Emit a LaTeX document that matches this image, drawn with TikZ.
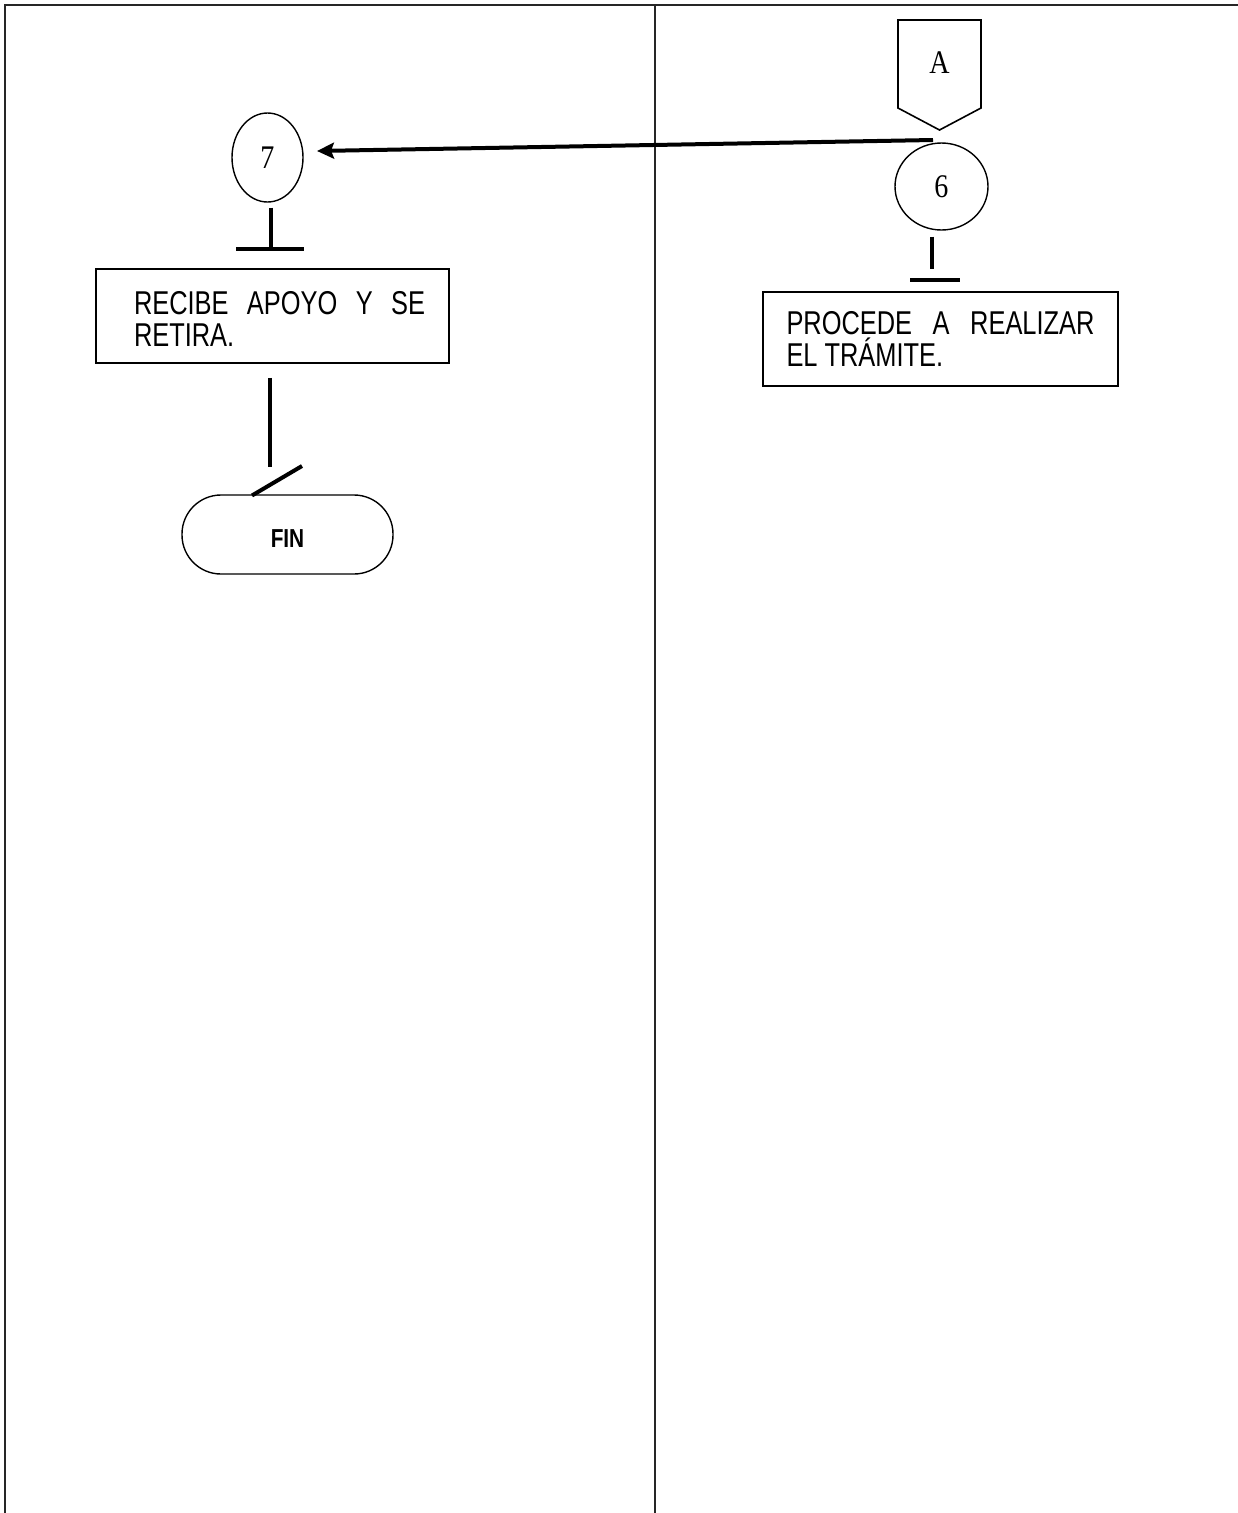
\documentclass[tikz,border=0pt]{standalone}
\usepackage{fontspec}
\usetikzlibrary{shapes.geometric,arrows.meta}
\newfontfamily\boxfont[FakeStretch=0.77]{Liberation Sans}
\newfontfamily\numfont[FakeStretch=0.85]{Liberation Serif}
\newfontfamily\finfont[FakeStretch=0.8]{Liberation Sans}
\hyphenpenalty=10000
\exhyphenpenalty=10000
\begin{document}
\begin{tikzpicture}[x=1pt,y=-1pt,
  frameline/.style={line width=2pt,black!85},
  procbox/.style={draw,line width=1.6pt,rectangle,inner sep=0pt,minimum width=353pt,minimum height=94pt,
    font=\fontsize{33}{32}\selectfont\boxfont},
  numcirc/.style={draw,line width=1.4pt,ellipse,inner sep=0pt,font=\fontsize{33}{33}\selectfont\numfont},
  conn/.style={line width=4pt},
  arrowline/.style={line width=4pt,-{Stealth[length=17pt,width=16pt,inset=3pt]}},
  term/.style={draw,line width=1.4pt,rectangle,rounded corners=39pt,minimum width=211pt,minimum height=79pt,inner sep=0pt,
    font=\fontsize{26}{26}\selectfont\finfont\bfseries}
]
\useasboundingbox (0,0) rectangle (1238,1513);
\fill[white] (0,0) rectangle (1238,1513);
% frame
\draw[frameline] (5,1513) -- (5,5) -- (1238,5);
\draw[frameline] (655,5) -- (655,1513);

% off-page connector A
\draw[line width=1.6pt] (898,20) -- (981,20) -- (981,108) -- (939.5,130) -- (898,108) -- cycle;
\node[font=\fontsize{33}{33}\selectfont\numfont] (A) at (939.5,63) {A};

% circles
\node[numcirc,minimum width=93pt,minimum height=87pt] (c6) at (941.5,186.5) {6};
\node[numcirc,minimum width=71pt,minimum height=89pt] (c7) at (267.5,157.5) {7};

% boxes
\node[procbox] (b1) at (272.5,316)
  {\hspace*{14pt}\parbox{291pt}{\rule{0pt}{28pt}RECIBE APOYO Y SE RETIRA.}};
\node[procbox,minimum width=355pt] (b2) at (940.5,339)
  {\parbox{308pt}{\rule{0pt}{22pt}PROCEDE A REALIZAR EL TRÁMITE.}};

% terminal
\node[term] (fin) at (287.5,534.5) {\raisebox{-3pt}[19pt][0pt]{FIN}};

% coordinates
\coordinate (a6) at (933,140);
\coordinate (t7) at (317,151);
\coordinate (j7) at (271,249);
\coordinate (j6) at (932,269);
\coordinate (s1) at (270,467);
\coordinate (s2) at (302,466);
\coordinate (s3) at (252,495.5);

% arrow 6 -> 7
\draw[arrowline] (a6) -- (t7);

% 7 -> box1
\draw[conn] ([yshift=-5pt]c7.south -| j7) -- (j7);
\draw[conn] ([xshift=-35pt]j7) -- ([xshift=33pt]j7);

% 6 -> box2
\draw[conn] ([yshift=-6pt]c6.south -| j6) -- (j6);
\draw[conn] (910,280) -- (960,280);

% box1 -> fin
\draw[conn] ([yshift=-14pt]b1.south -| s1) -- (s1);
\draw[conn] (s2) -- (s3);
\end{tikzpicture}
\end{document}
